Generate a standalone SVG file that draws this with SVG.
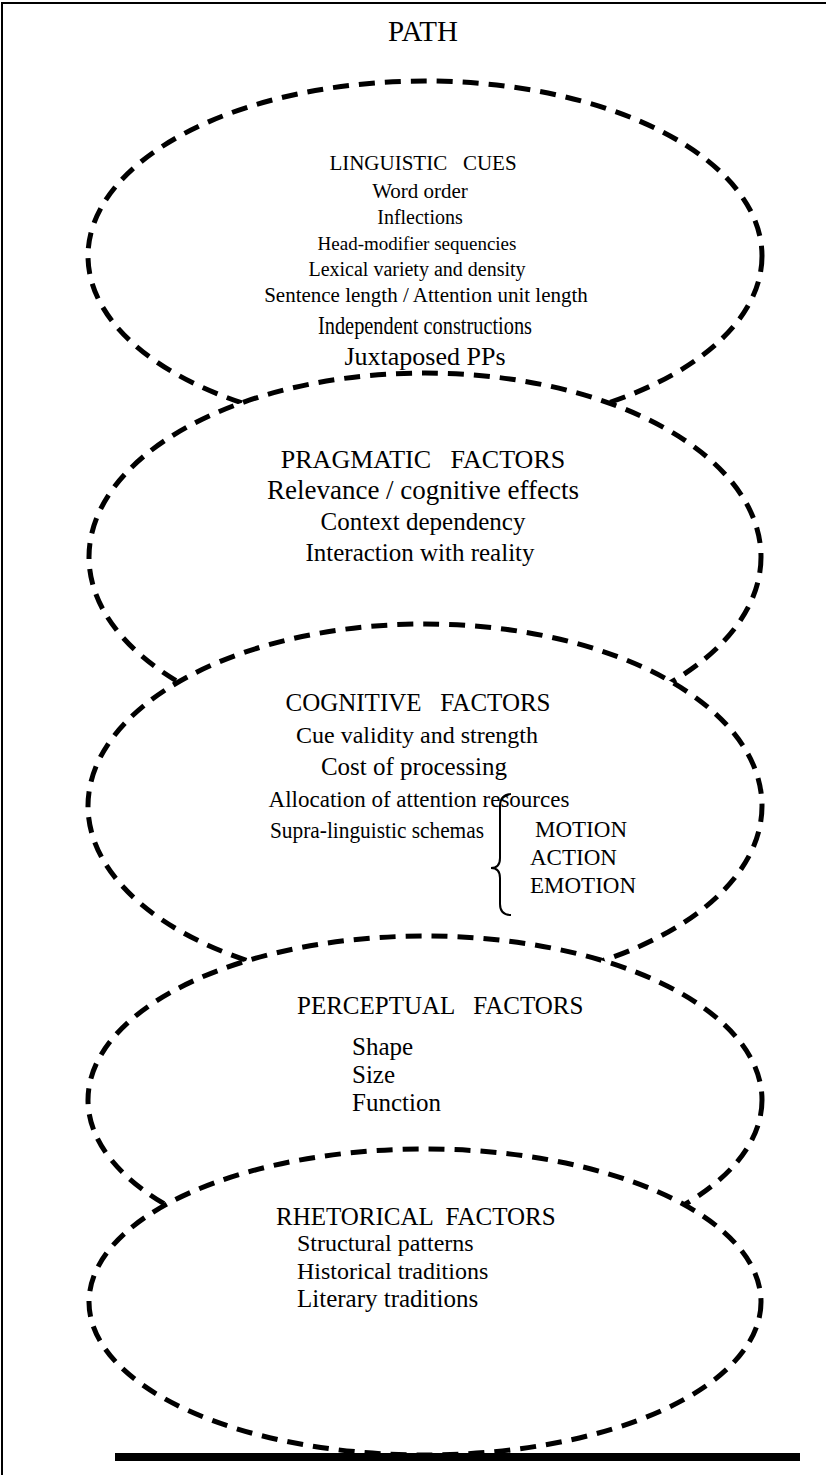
<svg xmlns="http://www.w3.org/2000/svg" width="826" height="1475" viewBox="0 0 826 1475">
  <style>
    .oval { fill: #ffffff; stroke: #000000; stroke-width: 5; stroke-dasharray: 16 10; }
    .t { font-family: "Liberation Serif", "Times New Roman", serif; fill: #000000; }
    .c { text-anchor: middle; }
    .frame { stroke: #000000; stroke-width: 2; fill: none; }
  </style>

  <!-- page frame -->
  <g id="frame">
    <line class="frame" x1="2" y1="2" x2="2" y2="1475"/>
    <line class="frame" x1="2" y1="3" x2="826" y2="3"/>
  </g>

  <text class="t c" x="423" y="41" font-size="29">PATH</text>

  <!-- overlapping dashed ovals, later ones hide the lower arc of the one above -->
  <g id="ovals">
    <ellipse id="oval-linguistic" class="oval" cx="425" cy="256" rx="337" ry="175"/>
    <ellipse id="oval-pragmatic" class="oval" cx="425" cy="557" rx="336" ry="184"/>
    <ellipse id="oval-cognitive" class="oval" cx="425" cy="806" rx="337" ry="182"/>
    <ellipse id="oval-perceptual" class="oval" cx="425" cy="1100" rx="337" ry="164"/>
    <ellipse id="oval-rhetorical" class="oval" cx="425" cy="1302" rx="336" ry="153"/>
  </g>

  <g id="linguistic">
    <text class="t c" x="423" y="170" font-size="21" xml:space="preserve">LINGUISTIC   CUES</text>
    <text class="t c" x="420" y="198" font-size="21">Word order</text>
    <text class="t c" x="420" y="224" font-size="20">Inflections</text>
    <text class="t c" x="417" y="250" font-size="19">Head-modifier sequencies</text>
    <text class="t c" x="417" y="276" font-size="20">Lexical variety and density</text>
    <text class="t c" x="426" y="302" font-size="21">Sentence length / Attention unit length</text>
    <text class="t c" x="425" y="334" font-size="25" textLength="214" lengthAdjust="spacingAndGlyphs">Independent constructions</text>
    <text class="t c" x="425" y="365" font-size="26">Juxtaposed PPs</text>
  </g>

  <g id="pragmatic">
    <text class="t c" x="423" y="468" font-size="26" xml:space="preserve">PRAGMATIC   FACTORS</text>
    <text class="t c" x="423" y="499" font-size="27">Relevance / cognitive effects</text>
    <text class="t c" x="423" y="530" font-size="25">Context dependency</text>
    <text class="t c" x="420" y="561" font-size="25">Interaction with reality</text>
  </g>

  <g id="cognitive">
    <text class="t c" x="418" y="711" font-size="25" xml:space="preserve">COGNITIVE   FACTORS</text>
    <text class="t c" x="417" y="743" font-size="24">Cue validity and strength</text>
    <text class="t c" x="414" y="775" font-size="25">Cost of processing</text>
    <text class="t c" x="419" y="807" font-size="23">Allocation of attention resources</text>
    <text class="t" x="270" y="838" font-size="24" textLength="214" lengthAdjust="spacingAndGlyphs">Supra-linguistic schemas</text>
    <path id="brace" d="M511,794 Q500,795 500,806 L500,858 Q500,868 491,868 Q500,868 500,878 L500,904 Q500,915 511,915" fill="none" stroke="#000" stroke-width="2"/>
    <text class="t" x="535" y="837" font-size="23">MOTION</text>
    <text class="t" x="530" y="865" font-size="23">ACTION</text>
    <text class="t" x="530" y="893" font-size="23">EMOTION</text>
  </g>

  <g id="perceptual">
    <text class="t" x="297" y="1014" font-size="25" xml:space="preserve">PERCEPTUAL   FACTORS</text>
    <text class="t" x="352" y="1055" font-size="25">Shape</text>
    <text class="t" x="352" y="1083" font-size="25">Size</text>
    <text class="t" x="352" y="1111" font-size="25">Function</text>
  </g>

  <g id="rhetorical">
    <text class="t" x="276" y="1225" font-size="25" xml:space="preserve">RHETORICAL  FACTORS</text>
    <text class="t" x="297" y="1251" font-size="24">Structural patterns</text>
    <text class="t" x="297" y="1279" font-size="24">Historical traditions</text>
    <text class="t" x="297" y="1307" font-size="25">Literary traditions</text>
  </g>

  <!-- base rule -->
  <line id="base" x1="115" y1="1457" x2="800" y2="1457" stroke="#000" stroke-width="8"/>
</svg>
